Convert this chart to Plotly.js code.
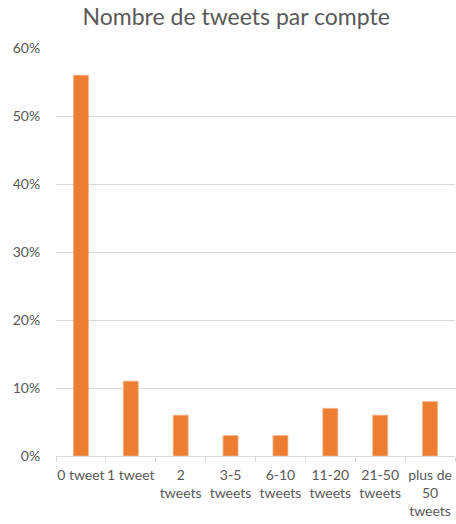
<!DOCTYPE html>
<html><head><meta charset="utf-8">
<script src="https://cdn.plot.ly/plotly-3.0.1.min.js"></script>
<style>body{margin:0;padding:0;background:#fff}#chart{width:456px;height:524px}</style>
</head><body><div id="chart"></div>
<script>
const categories = ["0 tweet", "1 tweet", "2<br>tweets", "3-5<br>tweets", "6-10<br>tweets", "11-20<br>tweets", "21-50<br>tweets", "plus de<br>50<br>tweets"];
const values = [0.56, 0.11, 0.06, 0.03, 0.03, 0.07, 0.06, 0.08];
const yTicks = [0, 0.1, 0.2, 0.3, 0.4, 0.5, 0.6];

const font = "Lato, Open Sans, sans-serif";
Plotly.newPlot("chart", [{
  type: "bar",
  x: categories,
  y: values,
  marker: {color: "#ED7D31", line: {color: "#F4B183", width: 0.8}},
  hoverinfo: "none"
}], {
  width: 456, height: 524,
  margin: {l: 56, r: 1, t: 48, b: 68},
  paper_bgcolor: "#fff", plot_bgcolor: "#fff",
  bargap: 0.7,
  showlegend: false,
  title: {text: "Nombre de tweets par compte", x: 0.518, xanchor: "center", y: 0.967, yanchor: "middle",
          font: {family: font, size: 23, color: "#595959"}},
  xaxis: {
    type: "category",
    tickson: "boundaries", ticks: "outside", ticklen: 5, tickcolor: "#D9D9D9",
    showline: true, linecolor: "#D9D9D9", linewidth: 1,
    showgrid: false, fixedrange: true, tickangle: 0, ticklabelstandoff: 6,
    tickfont: {family: font, size: 14, color: "#595959"}
  },
  yaxis: {
    range: [0, 0.6], tickvals: yTicks, tickformat: ".0%",
    showgrid: true, gridcolor: "#D9D9D9", gridwidth: 1,
    zeroline: false, showline: false,
    ticks: "outside", ticklen: 12, tickcolor: "rgba(0,0,0,0)",
    tickfont: {family: font, size: 14, color: "#595959"},
    fixedrange: true
  }
}, {displayModeBar: false, staticPlot: true});
</script></body></html>
